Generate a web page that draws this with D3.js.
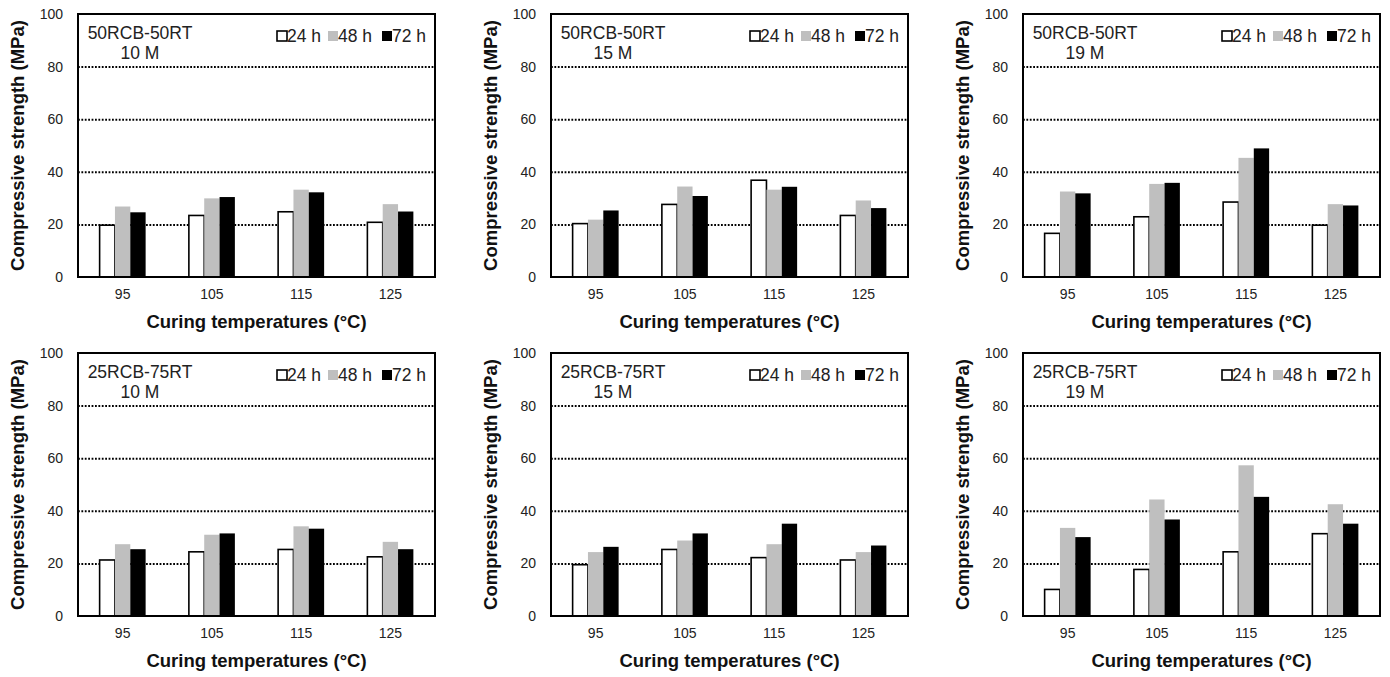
<!DOCTYPE html>
<meta charset="utf-8">
<style>
body { margin: 0; background: #fff; }
svg { display: block; font-family: "Liberation Sans", Arial, sans-serif; }
.tick text { fill: #222; font-size: 14px; }
.grid line { stroke: #000; stroke-width: 2; stroke-dasharray: 1.8 1.6; }
.grid path, .axis path { display: none; }
.axis line { display: none; }
.title { font-weight: bold; font-size: 18.5px; fill: #111; }
.note { font-size: 17.5px; fill: #222; }
</style>
<body>
<div id="chart"></div>
<script src="https://cdnjs.cloudflare.com/ajax/libs/d3/7.8.5/d3.min.js"></script>
<script>
// categories and series
var temps = ["95", "105", "115", "125"];
var ages = ["24 h", "48 h", "72 h"];
var yTicks = [0, 20, 40, 60, 80, 100];

// values per panel: one row per age (24 h, 48 h, 72 h)
var rcb50_10M = [[19.7, 23.4, 24.8, 20.8], [26.8, 29.9, 33.2, 27.7], [24.6, 30.4, 32.2, 24.9]];
var rcb50_15M = [[20.3, 27.6, 36.8, 23.4], [21.8, 34.4, 33.2, 29.1], [25.3, 30.8, 34.3, 26.2]];
var rcb50_19M = [[16.6, 22.9, 28.5, 19.7], [32.5, 35.4, 45.3, 27.7], [31.8, 35.8, 48.9, 27.2]];
var rcb25_10M = [[21.3, 24.4, 25.3, 22.5], [27.3, 30.9, 34.1, 28.2], [25.4, 31.4, 33.2, 25.4]];
var rcb25_15M = [[19.5, 25.3, 22.2, 21.3], [24.3, 28.7, 27.3, 24.3], [26.3, 31.4, 35.1, 26.8]];
var rcb25_19M = [[10.1, 17.7, 24.4, 31.3], [33.5, 44.3, 57.3, 42.5], [30.0, 36.7, 45.3, 35.1]];

var mixes = ["50RCB-50RT", "50RCB-50RT", "50RCB-50RT", "25RCB-75RT", "25RCB-75RT", "25RCB-75RT"];
var molarity = ["10 M", "15 M", "19 M", "10 M", "15 M", "19 M"];
var panelData = [rcb50_10M, rcb50_15M, rcb50_19M, rcb25_10M, rcb25_15M, rcb25_19M];

var fills = ["#ffffff", "#bfbfbf", "#000000"];

var svg = d3.select("#chart").append("svg")
    .attr("width", 1390)
    .attr("height", 677);

var lefts = [78, 551, 1023],
    tops = [14, 353],
    w = 357,
    h = 263;

panelData.forEach(function(vals, i) {
    var g = svg.append("g")
        .attr("transform", "translate(" + lefts[i % 3] + "," + tops[Math.floor(i / 3)] + ")");

    var x = d3.scaleBand().domain(temps).range([0, w]);
    var x1 = d3.scaleBand().domain(ages).range([0, 46]);
    var y = d3.scaleLinear().domain([0, 100]).range([h, 0]);

    // dotted gridlines
    g.append("g")
        .attr("class", "grid")
        .call(d3.axisLeft(y).tickValues([20, 40, 60, 80]).tickSize(-w).tickFormat(""));

    // bars
    var rows = [];
    ages.forEach(function(a, k) {
        temps.forEach(function(t, j) {
            rows.push({ age: a, k: k, temp: t, v: vals[k][j] });
        });
    });
    g.selectAll("rect.bar")
        .data(rows)
        .join("rect")
        .attr("class", "bar")
        .attr("x", function(d) { return x(d.temp) + x.bandwidth() / 2 - 23 + x1(d.age); })
        .attr("y", function(d) { return y(d.v); })
        .attr("width", x1.bandwidth())
        .attr("height", function(d) { return h - y(d.v); })
        .attr("fill", function(d) { return fills[d.k]; })
        .attr("stroke", function(d) { return d.k === 0 ? "#000" : "none"; })
        .attr("stroke-width", 1.6);

    // frame
    g.append("rect")
        .attr("width", w)
        .attr("height", h)
        .attr("fill", "none")
        .attr("stroke", "#000")
        .attr("stroke-width", 2);

    // axes
    g.append("g")
        .attr("class", "axis")
        .call(d3.axisLeft(y).tickValues(yTicks).tickSize(0).tickPadding(15));
    g.append("g")
        .attr("class", "axis")
        .attr("transform", "translate(0," + h + ")")
        .call(d3.axisBottom(x).tickSize(0).tickPadding(12));

    // titles
    g.append("text")
        .attr("class", "title")
        .attr("transform", "translate(-60," + (h / 2) + ") rotate(-90)")
        .attr("text-anchor", "middle")
        .attr("dy", "0.35em")
        .text("Compressive strength (MPa)");
    g.append("text")
        .attr("class", "title")
        .attr("x", w / 2)
        .attr("y", h + 45)
        .attr("text-anchor", "middle")
        .attr("dy", "0.35em")
        .text("Curing temperatures (°C)");

    // mix label
    g.append("text").attr("class", "note")
        .attr("x", 62).attr("y", 25).attr("text-anchor", "middle")
        .text(mixes[i]);
    g.append("text").attr("class", "note")
        .attr("x", 62).attr("y", 45).attr("text-anchor", "middle")
        .text(molarity[i]);

    // legend
    var lx = [199, 250, 304];
    var leg = g.selectAll("g.leg")
        .data(ages)
        .join("g")
        .attr("class", "leg")
        .attr("transform", function(d, k) { return "translate(" + lx[k] + ",22)"; });
    leg.append("rect")
        .attr("x", 0).attr("y", -5)
        .attr("width", 10).attr("height", 10)
        .attr("fill", function(d, k) { return fills[k]; })
        .attr("stroke", function(d, k) { return k === 0 ? "#000" : "none"; })
        .attr("stroke-width", 1.6);
    leg.append("text")
        .attr("class", "note")
        .attr("x", 10)
        .attr("dy", "0.35em")
        .text(function(d) { return d; });
});
</script>
</body>
</html>
